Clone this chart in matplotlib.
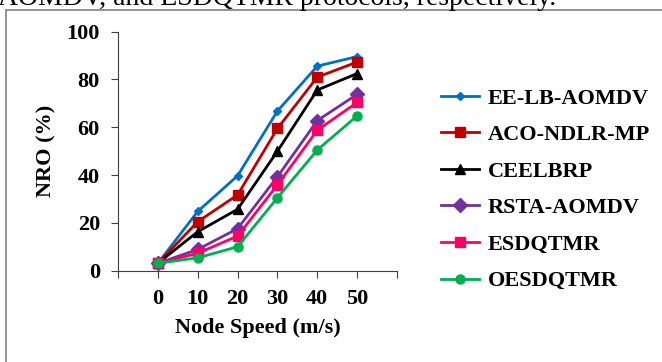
import numpy as np
import matplotlib.pyplot as plt
from matplotlib.patches import Rectangle

plt.rcParams['font.family'] = ['Liberation Serif', 'DejaVu Serif']

# Node speed (m/s) vs NRO (%)
speeds = [0, 10, 20, 30, 40, 50]
ee_lb_aomdv = [3.1, 24.8, 39.7, 66.8, 85.6, 89.6]
aco_ndlr_mp = [3.1, 20.5, 31.7, 59.5, 81.0, 87.3]
ceelbrp = [3.1, 16.3, 25.7, 50.0, 75.6, 82.5]
rsta_aomdv = [3.1, 8.9, 17.6, 39.3, 62.8, 73.8]
esdqtmr = [3.1, 7.3, 14.5, 35.9, 58.8, 70.4]
oesdqtmr = [3.1, 5.4, 10.0, 30.5, 50.5, 64.8]

names = ["EE-LB-AOMDV", "ACO-NDLR-MP", "CEELBRP", "RSTA-AOMDV", "ESDQTMR", "OESDQTMR"]
series = [ee_lb_aomdv, aco_ndlr_mp, ceelbrp, rsta_aomdv, esdqtmr, oesdqtmr]
colors = ["#0070C0", "#C00000", "#000000", "#7030A0", "#FF0066", "#00B050"]
markers = ["D", "s", "^", "D", "s", "o"]
msizes = [4.5, 6.5, 6.5, 7.5, 7, 6.5]

fig = plt.figure(figsize=(6.62, 3.62), dpi=100)
ax = fig.add_axes([118 / 662, 91.3 / 362, 279 / 662, 239 / 362])

for name, vals, c, m, ms in zip(names, series, colors, markers, msizes):
    ax.plot(speeds, vals, color=c, marker=m, markersize=ms, linewidth=2,
            label=name)

ax.set_xlim(-10, 60)
ax.set_ylim(0, 100)
ax.set_xticks(np.arange(-10, 61, 10))
ax.set_xticklabels([""] + [str(s) for s in speeds] + [""])
ax.set_yticks(np.arange(0, 101, 20))
for s in ["top", "right"]:
    ax.spines[s].set_visible(False)
for s in ["left", "bottom"]:
    ax.spines[s].set_color("#404040")
ax.tick_params(direction="out", length=5, width=0.8, color="#404040",
               labelsize=16)
ax.tick_params(axis="y", pad=8)
ax.tick_params(axis="x", pad=8)
for lab in ax.get_xticklabels() + ax.get_yticklabels():
    lab.set_fontweight("bold")

ax.set_xlabel("Node Speed (m/s)", fontsize=16, fontweight="bold", labelpad=7)
ax.set_ylabel("NRO (%)", fontsize=16, fontweight="bold", labelpad=7)

leg = ax.legend(loc="upper left", bbox_to_anchor=(421 / 662, 1 - 68 / 362),
                bbox_transform=fig.transFigure, frameon=False,
                prop={"size": 16, "weight": "bold"},
                handlelength=1.7, handletextpad=0.4, labelspacing=0.72)

# frame around the figure and the cropped caption text above it
fig.patches.append(Rectangle((6 / 662, -0.05), 1.0, 1 - 10 / 362 + 0.05,
                             transform=fig.transFigure, fill=False,
                             edgecolor="#808080", linewidth=1.2))
fig.text(-2 / 662, 1 - 5 / 362, "AOMDV, and ESDQTMR protocols, respectively.",
         fontsize=20, va="baseline", ha="left")

fig.savefig("out.png", dpi=100)
